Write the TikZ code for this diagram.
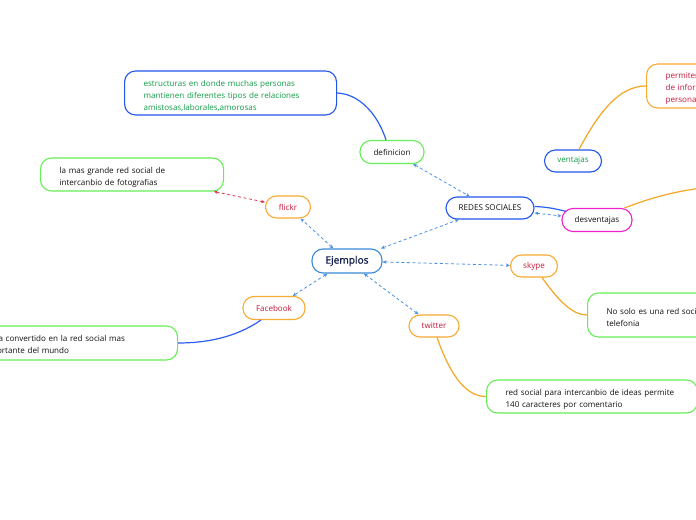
\documentclass[tikz,border=0pt]{standalone}
\usepackage{fontspec}
\setmainfont{Open Sans}
\newfontfamily\ejfont[FakeBold=1.2]{Open Sans}
\usetikzlibrary{arrows.meta}
\definecolor{bgreen}{HTML}{66EE55}
\definecolor{bblue}{HTML}{2255EE}
\definecolor{borange}{HTML}{F8AA33}
\definecolor{bmag}{HTML}{EE22CC}
\definecolor{eblue}{HTML}{3A8AD8}
\definecolor{linkblue}{HTML}{4A90E2}
\definecolor{linkred}{HTML}{D8405A}
\definecolor{tred}{HTML}{C8183A}
\definecolor{tgreen}{HTML}{129E48}
\definecolor{tdark}{HTML}{111111}
\definecolor{tnavy}{HTML}{14224E}
\definecolor{solblue}{HTML}{2A5FF0}
\definecolor{solorange}{HTML}{F5A623}
\newcommand{\topstrut}{\rule{0pt}{11.5bp}}
\begin{document}
\begin{tikzpicture}[x=1bp,y=-1bp,
  box/.style={draw, rounded corners=11bp, line width=1.1bp, fill=white, text=tdark,
    font=\fontsize{8.1}{12}\selectfont, inner sep=0pt, align=center},
  big/.style={box, align=left, inner xsep=19bp, anchor=west},
  dashlink/.style={draw=linkblue, line width=0.8bp, dash pattern=on 3bp off 2.5bp,
    {Stealth[length=4bp,width=3.5bp]}-{Stealth[length=4bp,width=3.5bp]}},
  redlink/.style={dashlink, draw=linkred},
  solb/.style={draw=solblue, line width=1.2bp},
  solo/.style={draw=solorange, line width=1.2bp}]
\useasboundingbox (0,0) rectangle (696,520);

% main nodes
\node[box, draw=eblue, text=tnavy, font=\ejfont\fontsize{10.2}{12}\selectfont, minimum width=70bp, minimum height=24bp] (ej) at (347,261) {Ejemplos};
\node[box, draw=bblue, minimum width=88bp, minimum height=22bp] (redes) at (490,208) {REDES SOCIALES};
\node[box, draw=bgreen, minimum width=64bp, minimum height=23bp] (def) at (392,152) {definicion};
\node[box, draw=bblue, text=tgreen, minimum width=57bp, minimum height=22bp] (vent) at (573,161) {ventajas};
\node[box, draw=bmag, minimum width=70bp, minimum height=23bp] (desv) at (597,220) {desventajas};
\node[box, draw=borange, text=tred, minimum width=45bp, minimum height=22bp] (flickr) at (288,207) {flickr};
\node[box, draw=borange, text=tred, minimum width=47bp, minimum height=22bp] (skype) at (534,266) {skype};
\node[box, draw=borange, text=tred, minimum width=62bp, minimum height=23bp] (fb) at (274,308) {Facebook};
\node[box, draw=borange, text=tred, minimum width=50bp, minimum height=22bp] (tw) at (434,326) {twitter};

% leaf boxes
\node[big, draw=bblue, text=tgreen, text width=174bp, minimum height=44bp] (estr) at (124,93)
  {\topstrut estructuras en donde muchas personas\\mantienen diferentes tipos de relaciones\\amistosas,laborales,amorosas};
\node[big, draw=bgreen, text width=145bp, minimum height=33bp] (lamas) at (40,174.5)
  {\topstrut la mas grande red social de\\intercanbio de fotografias};
\node[big, draw=borange, text=tred, text width=130bp, minimum height=44bp] (perm) at (646,86)
  {\topstrut permiten\\de informacion\\personal};
\node[big, draw=bgreen, text width=173bp, minimum height=44bp] (nosolo) at (587,315)
  {\topstrut No solo es una red social\\telefonia};
\node[big, draw=bgreen, text width=173bp, minimum height=33bp] (rsp) at (486,396.5)
  {\topstrut red social para intercanbio de ideas permite\\140 caracteres por comentario};
\node[big, draw=bgreen, text width=176bp, minimum height=34bp] (conv) at (-37,343)
  {\topstrut se ha convertido en la red social mas\\importante del mundo};

\coordinate (rend) at (702,188);

% dashed links
\draw[dashlink] (ej) -- (redes);
\draw[dashlink] (def) -- (redes);
\draw[dashlink] (redes) -- (desv);
\draw[dashlink] (ej) -- (flickr);
\draw[dashlink] (ej) -- (fb);
\draw[dashlink] (ej) -- (skype);
\draw[dashlink] (ej) -- (tw);
\draw[redlink] (flickr) -- (lamas);

% solid links
\draw[solb] ([xshift=-6bp]def.north) .. controls (378,115) and (360,94) .. (estr.east);
\draw[solb] ([yshift=1.5bp]redes.east) .. controls (548,207) and (556,209) .. ([xshift=5bp,yshift=-3.5bp]desv.north west);
\draw[solb] ([xshift=-13bp]fb.south) .. controls (235,338) and (205,343) .. (conv.east);
\draw[solo] ([xshift=6bp]vent.north) .. controls (600,110) and (620,86) .. (perm.west);
\draw[solo] ([xshift=-8bp]desv.north east) .. controls (645,200) and (670,192) .. (rend);
\draw[solo] ([xshift=8bp]skype.south) .. controls (558,300) and (572,315) .. (nosolo.west);
\draw[solo] ([xshift=3bp]tw.south) .. controls (452,380) and (468,396.5) .. (rsp.west);
\end{tikzpicture}
\end{document}
